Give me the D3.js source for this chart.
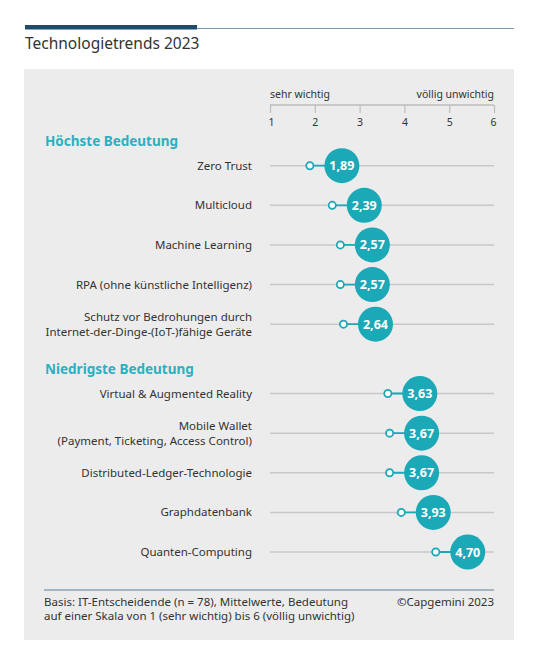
<!DOCTYPE html>
<html>
<head>
<meta charset="utf-8">
<script src="https://cdn.jsdelivr.net/npm/d3@7"></script>
<style>
  body { margin: 0; background: #fff; }
  svg { display: block; font-family: "Noto Sans", sans-serif; }
</style>
</head>
<body>
<div class="chart"></div>
<script>
/* data */
const groupNames = ["Höchste Bedeutung", "Niedrigste Bedeutung"];
const labels = [
    "Zero Trust",
    "Multicloud",
    "Machine Learning",
    "RPA (ohne künstliche Intelligenz)",
    "Schutz vor Bedrohungen durch\nInternet-der-Dinge-(IoT-)fähige Geräte",
    "Virtual & Augmented Reality",
    "Mobile Wallet\n(Payment, Ticketing, Access Control)",
    "Distributed-Ledger-Technologie",
    "Graphdatenbank",
    "Quanten-Computing"
];
const values = [1.89, 2.39, 2.57, 2.57, 2.64, 3.63, 3.67, 3.67, 3.93, 4.70];
const groupOf = [0, 0, 0, 0, 0, 1, 1, 1, 1, 1];
const ticks = [1, 2, 3, 4, 5, 6];
const scaleEnds = ["sehr wichtig", "völlig unwichtig"];
const title = "Technologietrends 2023";
const noteLines = [
    "Basis: IT-Entscheidende (n = 78), Mittelwerte, Bedeutung",
    "auf einer Skala von 1 (sehr wichtig) bis 6 (völlig unwichtig)"
];
const source = "©Capgemini 2023";

const width = 540, height = 666;
const teal = "#1ba9b7";
const textColor = "#333";

const de = d3.formatLocale({ decimal: ",", thousands: ".", grouping: [3], currency: ["", " €"] });
const fmt = de.format(".2f");

const svg = d3.select(".chart").append("svg")
    .attr("width", width)
    .attr("height", height);

// header rule: thick dark bar + thin line
svg.append("line")
    .attr("x1", 25).attr("x2", 514).attr("y1", 28.5).attr("y2", 28.5)
    .attr("stroke", "#7f9cb0").attr("stroke-width", 1.2);
svg.append("rect")
    .attr("x", 25).attr("y", 25).attr("width", 172).attr("height", 4.5)
    .attr("fill", "#1f4d69");

svg.append("text")
    .attr("x", 25).attr("y", 49)
    .attr("font-size", 15.5)
    .attr("fill", textColor)
    .text(title);

// grey panel
svg.append("rect")
    .attr("x", 24).attr("y", 69).attr("width", 490).attr("height", 571)
    .attr("fill", "#ececec");

const x = d3.scaleLinear().domain([1, 6]).range([270, 494]);
// row positions: index plus a gap between the two groups
const y = d3.scaleLinear().domain([0, 9.75]).range([165.7, 552]);
const rowPos = i => y(i + groupOf[i] * 0.75);

// axis on top
const axisG = svg.append("g")
    .attr("transform", "translate(0,105)")
    .call(d3.axisBottom(x).tickValues(ticks).tickSize(8).tickPadding(6).tickFormat(d3.format("d")));
axisG.select(".domain").attr("stroke", "#bdbdbd").attr("stroke-width", 1.5)
    .attr("d", `M${x(1)},0H${x(6)}`);
axisG.selectAll(".tick line").attr("stroke", "#bdbdbd").attr("stroke-width", 1.2);
axisG.selectAll(".tick text")
    .attr("font-size", 10.5)
    .attr("font-family", "Noto Sans, sans-serif")
    .attr("fill", textColor);
axisG.selectAll(".tick")
    .filter(d => d === 1).select("text").attr("text-anchor", "start").attr("dx", -2);
axisG.selectAll(".tick")
    .filter(d => d === 6).select("text").attr("text-anchor", "end").attr("dx", 2);

svg.append("text")
    .attr("x", x(1)).attr("y", 98)
    .attr("font-size", 10.5).attr("fill", textColor)
    .text(scaleEnds[0]);
svg.append("text")
    .attr("x", x(6)).attr("y", 98)
    .attr("text-anchor", "end")
    .attr("font-size", 10.5).attr("fill", textColor)
    .text(scaleEnds[1]);

// group headings
groupNames.forEach((g, gi) => {
    const first = groupOf.indexOf(gi);
    svg.append("text")
        .attr("x", 45).attr("y", rowPos(first) - 20)
        .attr("font-size", 13.5).attr("font-weight", "bold")
        .attr("fill", "#2bb0bf")
        .text(g);
});

const rows = svg.selectAll("g.row")
    .data(values.map((v, i) => ({ v, label: labels[i], i })))
    .enter().append("g")
    .attr("class", "row")
    .attr("transform", d => `translate(0,${rowPos(d.i)})`);

// grey track
rows.append("line")
    .attr("x1", x(1)).attr("x2", x(6))
    .attr("stroke", "#c8c8c8").attr("stroke-width", 1.5);

// category labels, right aligned
rows.append("text")
    .attr("text-anchor", "end")
    .attr("font-size", 11.5)
    .attr("fill", textColor)
    .each(function(d) {
        const lines = d.label.split("\n");
        const t = d3.select(this);
        lines.forEach((ln, k) => {
            t.append("tspan")
                .attr("x", 252)
                .attr("y", (k - (lines.length - 1) / 2) * 15 + 4)
                .text(ln);
        });
    });

const bubbleOffset = 32;

// connector
rows.append("line")
    .attr("x1", d => x(d.v)).attr("x2", d => x(d.v) + bubbleOffset)
    .attr("stroke", teal).attr("stroke-width", 1.8);

// value marker
rows.append("circle")
    .attr("cx", d => x(d.v))
    .attr("r", 3.6)
    .attr("fill", "#fff")
    .attr("stroke", teal).attr("stroke-width", 1.8);

// value bubble
rows.append("circle")
    .attr("cx", d => x(d.v) + bubbleOffset)
    .attr("r", 17.5)
    .attr("fill", teal);

rows.append("text")
    .attr("x", d => x(d.v) + bubbleOffset)
    .attr("y", 4.5)
    .attr("text-anchor", "middle")
    .attr("font-size", 12.5).attr("font-weight", "bold")
    .attr("fill", "#fff")
    .text(d => fmt(d.v));

// footer
svg.append("line")
    .attr("x1", 44).attr("x2", 494).attr("y1", 590).attr("y2", 590)
    .attr("stroke", "#8aa3b3").attr("stroke-width", 1.3);

svg.selectAll("text.note")
    .data(noteLines)
    .enter().append("text")
    .attr("class", "note")
    .attr("x", 44).attr("y", (d, i) => 606 + i * 14)
    .attr("font-size", 11.5).attr("fill", textColor)
    .text(d => d);

svg.append("text")
    .attr("x", 494).attr("y", 606)
    .attr("text-anchor", "end")
    .attr("font-size", 11.5).attr("fill", textColor)
    .text(source);
</script>
</body>
</html>
